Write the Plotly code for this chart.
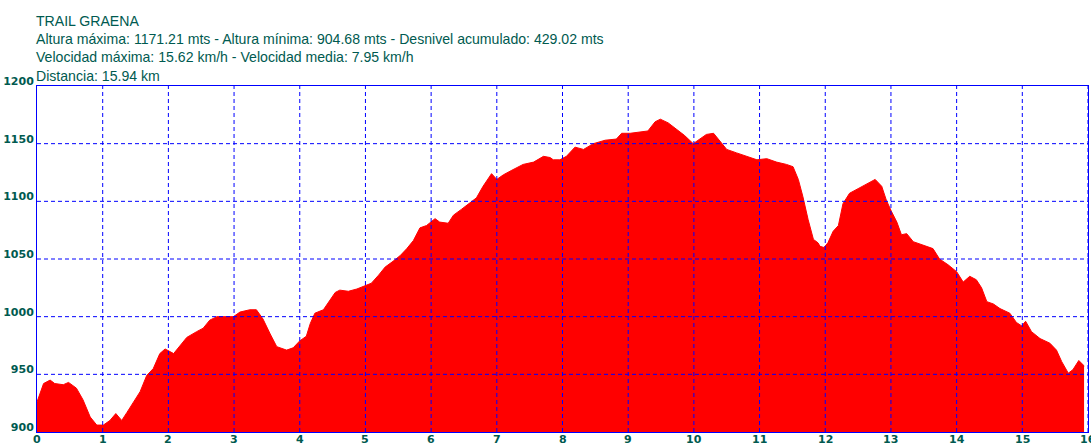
import plotly.graph_objects as go

# Distance along the track (km) and altitude (m), read from the profile
distancia_km = [
    0.00, 0.05, 0.10, 0.20, 0.27, 0.40, 0.48, 0.60, 0.70, 0.81, 0.91, 1.01,
    1.11, 1.20, 1.29, 1.37, 1.47, 1.57, 1.67, 1.77, 1.87, 1.95, 2.08, 2.18,
    2.28, 2.43, 2.53, 2.63, 2.74, 2.89, 2.99, 3.09, 3.24, 3.34, 3.44, 3.55,
    3.65, 3.80, 3.90, 4.00, 4.10, 4.16, 4.23, 4.36, 4.46, 4.54, 4.61, 4.74,
    4.87, 4.99, 5.09, 5.20, 5.30, 5.42, 5.53, 5.63, 5.73, 5.83, 5.93, 6.06,
    6.13, 6.26, 6.34, 6.46, 6.57, 6.69, 6.79, 6.92, 7.00, 7.10, 7.23, 7.40,
    7.56, 7.71, 7.81, 7.86, 7.96, 8.06, 8.19, 8.32, 8.47, 8.65, 8.82, 8.90,
    9.03, 9.15, 9.30, 9.41, 9.49, 9.61, 9.74, 9.86, 9.99, 10.09, 10.19, 10.30,
    10.40, 10.50, 10.65, 10.80, 10.96, 11.11, 11.26, 11.41, 11.51, 11.59, 11.66,
    11.74, 11.82, 11.89, 11.92, 11.98, 12.04, 12.12, 12.20, 12.27, 12.37, 12.50,
    12.60, 12.76, 12.86, 12.93, 13.01, 13.09, 13.16, 13.24, 13.34, 13.49, 13.64,
    13.74, 13.87, 14.00, 14.10, 14.20, 14.30, 14.38, 14.46, 14.56, 14.66, 14.81,
    14.91, 14.99, 15.05, 15.14, 15.27, 15.42, 15.52, 15.60, 15.70, 15.77, 15.86,
    15.93, 15.94,
]
altura_m = [
    926, 935, 942, 945, 942, 941, 943, 938, 928, 913, 906, 906,
    910, 916, 910, 917, 926, 935, 949, 955, 968, 972, 968, 975,
    982, 987, 990, 997, 1000, 1000, 1000, 1004, 1006, 1006, 998, 985,
    974, 971, 973, 979, 983, 994, 1003, 1006, 1014, 1021, 1023, 1022,
    1024, 1027, 1029, 1036, 1043, 1048, 1053, 1059, 1066, 1077, 1079, 1085,
    1082, 1081, 1088, 1093, 1098, 1103, 1113, 1124, 1119, 1123, 1127, 1132,
    1134, 1139, 1138, 1136, 1136, 1139, 1147, 1145, 1150, 1153, 1154, 1159,
    1159, 1160, 1161, 1169, 1171.21, 1168, 1162, 1157, 1150, 1154, 1158, 1159,
    1152, 1145, 1142, 1139, 1136, 1137, 1134, 1132, 1130, 1119, 1104,
    1084, 1067, 1064, 1061, 1060, 1064, 1074, 1079, 1098, 1107, 1111,
    1114, 1119, 1113, 1101, 1091, 1082, 1071, 1072, 1065, 1062, 1059,
    1050, 1045, 1039, 1030, 1035, 1032, 1025, 1013, 1011, 1007, 1003,
    995, 992, 996, 987, 981, 977, 971, 961, 951, 954, 962,
    958, 957,
]

x_ticks = list(range(0, 17))
x_tick_labels = [str(v) for v in x_ticks]
y_ticks = [900, 950, 1000, 1050, 1100, 1150, 1200]
y_tick_labels = [str(v) for v in y_ticks]

header_lines = [
    "TRAIL GRAENA",
    "Altura máxima: 1171.21 mts - Altura mínima: 904.68 mts - Desnivel acumulado: 429.02 mts",
    "Velocidad máxima: 15.62 km/h - Velocidad media: 7.95 km/h",
    "Distancia: 15.94 km",
]

TEXT_COLOR = "#005a50"
GRID_COLOR = "#0000FF"
FONT = "Liberation Sans, Arial, sans-serif"
TICK_FONT = dict(family="DejaVu Sans, sans-serif", size=11, color=TEXT_COLOR, weight="bold")

W, H = 1091, 444
M_L, M_R, M_T, M_B = 37, 3, 86, 12
plot_h = H - M_T - M_B

fig = go.Figure()
fig.add_trace(go.Scatter(
    x=distancia_km, y=altura_m, mode="lines",
    fill="tozeroy", fillcolor="#FF0000",
    line=dict(color="#FF0000", width=1),
    hoverinfo="skip", showlegend=False,
))

shapes = []
for xv in x_ticks[1:]:
    shapes.append(dict(type="line", xref="x", yref="paper", x0=xv, x1=xv, y0=0, y1=1,
                       line=dict(color=GRID_COLOR, width=1, dash="4px,3px"), layer="above"))
for yv in y_ticks[1:-1]:
    shapes.append(dict(type="line", xref="paper", yref="y", x0=0, x1=1, y0=yv, y1=yv,
                       line=dict(color=GRID_COLOR, width=1, dash="4px,3px"), layer="above"))

# header text lines: distance (px) of each line centre above the plot top
offsets_px = [65.5, 47.0, 28.5, 10.5]
annotations = []
for txt, off in zip(header_lines, offsets_px):
    annotations.append(dict(
        text=txt, xref="paper", yref="paper", x=0, y=1 + off / plot_h,
        xanchor="left", yanchor="middle", showarrow=False, xshift=-3,
        font=dict(family=FONT, size=14.1, color=TEXT_COLOR),
    ))

# x-axis tick labels, placed tight under the axis like the reference
for xv, lab in zip(x_ticks, x_tick_labels):
    annotations.append(dict(
        text=lab, xref="x", yref="paper", x=xv, y=0,
        xanchor="center", yanchor="top", showarrow=False, yshift=1,
        font=TICK_FONT,
    ))

fig.update_layout(
    width=W, height=H,
    margin=dict(l=M_L, r=M_R, t=M_T, b=M_B, pad=0, autoexpand=False),
    paper_bgcolor="white", plot_bgcolor="white",
    shapes=shapes, annotations=annotations,
    xaxis=dict(range=[0, 16], tickvals=x_ticks, showticklabels=False,
               showgrid=False, zeroline=False, showline=True, mirror=True,
               linecolor="#0000FF", linewidth=1, ticks="", automargin=False),
    yaxis=dict(range=[900, 1200], tickvals=y_ticks, ticktext=y_tick_labels,
               showgrid=False, zeroline=False, showline=True, mirror=True,
               linecolor="#0000FF", linewidth=1, ticks="", automargin=False,
               ticklabelshift=-5, ticklabelstandoff=0,
               tickfont=TICK_FONT),
)

fig.write_html("out.html", config={"displayModeBar": False},
               post_script="document.body.style.margin='0';document.body.style.overflow='hidden';")
